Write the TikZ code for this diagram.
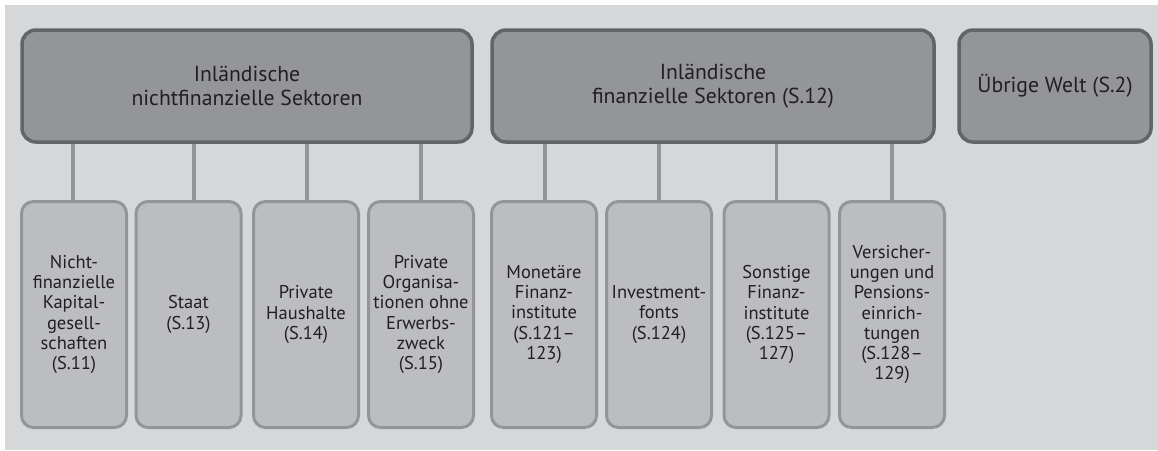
\documentclass[tikz,border=0pt]{standalone}
\usepackage{fontspec}
\setmainfont{PT Sans}
\definecolor{bgc}{RGB}{214,215,217}
\definecolor{topfill}{RGB}{147,149,152}
\definecolor{topdraw}{RGB}{99,100,102}
\definecolor{subfill}{RGB}{188,189,192}
\definecolor{subdraw}{RGB}{147,149,152}
\definecolor{txt}{RGB}{35,31,32}
\pgfdeclarelayer{bglayer}
\pgfdeclarelayer{connlayer}
\pgfsetlayers{bglayer,connlayer,main}
\begin{document}
\begin{tikzpicture}[x=1pt,y=-1pt,
  topbox/.style={draw=topdraw, fill=topfill, line width=3.5pt, rounded corners=14pt, text=txt, align=center, font=\fontsize{21.7}{23.5}\selectfont, inner sep=0pt, minimum height=112pt},
  subbox/.style={draw=subdraw, fill=subfill, line width=3pt, rounded corners=12pt, text=txt, align=center, font=\fontsize{18.5}{20.2}\selectfont, inner sep=0pt, minimum width=105pt, minimum height=226pt},
  conn/.style={draw=subdraw, line width=3.5pt}]
\useasboundingbox (0,0) rectangle (1158,450);
\begin{pgfonlayer}{bglayer}
\fill[bgc] (5,5) rectangle (1158,450);
\end{pgfonlayer}
\node[topbox, minimum width=450pt] (t1) at (247,86) {Inländische\\nichtfinanzielle Sektoren};
\node[topbox, minimum width=442pt] (t2) at (713,86) {Inländische\\finanzielle Sektoren (S.12)};
\node[topbox, minimum width=192pt] (t3) at (1055,86) {Übrige Welt (S.2)};
\node[subbox] (b1) at (74,314.5) {Nicht-\\finanzielle\\Kapital-\\gesell-\\schaften\\(S.11)};
\node[subbox] (b2) at (188.5,314.5) {Staat\\(S.13)};
\node[subbox] (b3) at (306,314.5) {Private\\Haushalte\\(S.14)};
\node[subbox] (b4) at (421,314.5) {Private\\Organisa-\\tionen ohne\\Erwerbs-\\zweck\\(S.15)};
\node[subbox] (b5) at (544,314.5) {Monetäre\\Finanz-\\institute\\(S.121--\\123)};
\node[subbox] (b6) at (659,314.5) {Investment-\\fonts\\(S.124)};
\node[subbox] (b7) at (776.5,314.5) {Sonstige\\Finanz-\\institute\\(S.125--\\127)};
\node[subbox] (b8) at (892,314.5) {Versicher-\\ungen und\\Pensions-\\einrich-\\tungen\\(S.128--\\129)};
\begin{pgfonlayer}{connlayer}
\draw[conn] ([xshift=-1pt]b1.north) -- ([xshift=-1pt]b1.north |- t1.south);
\draw[conn] ([xshift=5.5pt]b2.north) -- ([xshift=5.5pt]b2.north |- t1.south);
\draw[conn] ([xshift=1pt]b3.north) -- ([xshift=1pt]b3.north |- t1.south);
\draw[conn] (b4.north) -- (b4.north |- t1.south);
\draw[conn] ([xshift=1pt]b5.north) -- ([xshift=1pt]b5.north |- t2.south);
\draw[conn] (b6.north) -- (b6.north |- t2.south);
\draw[conn] (b7.north) -- (b7.north |- t2.south);
\draw[conn] (b8.north) -- (b8.north |- t2.south);
\end{pgfonlayer}
\end{tikzpicture}
\end{document}
